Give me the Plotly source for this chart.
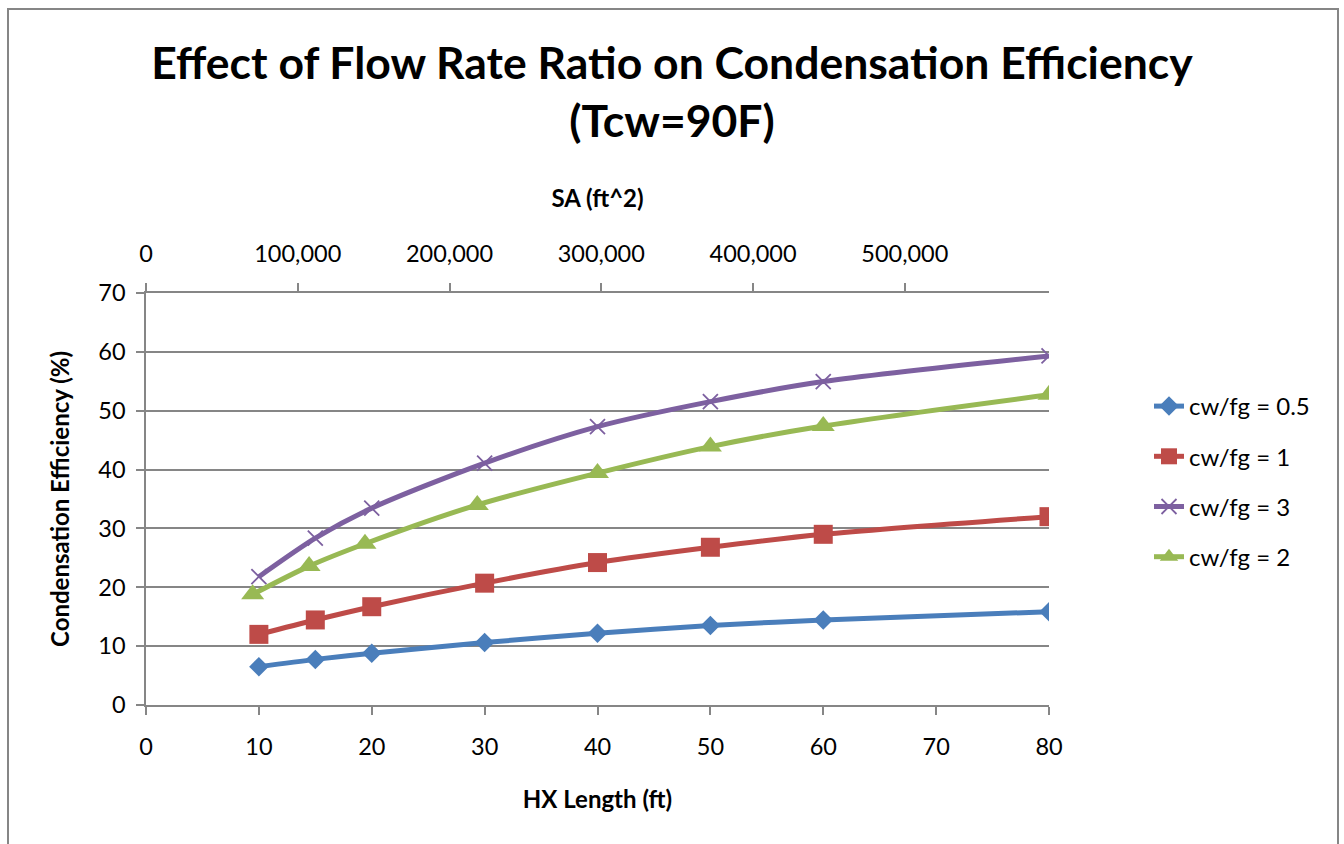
import plotly.graph_objects as go

# HX length (ft) for each run
length_ft = [10, 15, 20, 30, 40, 50, 60, 80]
length_ft_cw2 = [9.45, 14.45, 19.4, 29.35, 40, 50, 60, 80]

# Condensation efficiency (%) per flow rate ratio
eff_05 = [6.5, 7.75, 8.8, 10.6, 12.2, 13.5, 14.45, 15.85]
eff_1 = [12.0, 14.45, 16.7, 20.7, 24.2, 26.8, 29.0, 32.0]
eff_3 = [21.8, 28.35, 33.45, 41.1, 47.3, 51.55, 54.95, 59.3]
eff_2 = [18.8, 23.6, 27.4, 34.0, 39.4, 43.9, 47.4, 52.7]

# top-axis surface area ticks
sa_ticks = [0, 100000, 200000, 300000, 400000, 500000]
sa_tick_text = ["0", "100,000", "200,000", "300,000", "400,000", "500,000"]

FONT = "Lato"
GRAY = "#868686"

# plot area in pixels
W, H = 1344, 844
L, R, T, B = 146, 1049, 293, 705


def px_x(p):
    return (p - L) / (R - L)


def px_y(p):
    return (B - p) / (B - T)


series = [
    ("cw/fg = 0.5", length_ft, eff_05, "#4A7EBB", dict(symbol="diamond", size=15)),
    ("cw/fg = 1", length_ft, eff_1, "#BE4B48", dict(symbol="square", size=19)),
    ("cw/fg = 3", length_ft, eff_3, "#7D60A0", dict(symbol="x-thin-open", size=15,
                                                    line=dict(width=1.8, color="#7D60A0"))),
    ("cw/fg = 2", length_ft_cw2, eff_2, "#98B954", dict(symbol="triangle-up", size=20)),
]

fig = go.Figure()
for i, (name, xs, ys, color, marker) in enumerate(series):
    fig.add_trace(go.Scatter(
        x=xs, y=ys, name=name, mode="lines+markers",
        line=dict(color=color, width=5, shape="spline", smoothing=0.8),
        marker=dict(color=color, **marker),
        legendgroup=f"g{i}",
    ))

fig.update_layout(
    width=W, height=H,
    margin=dict(l=L, r=W - R, t=T, b=H - B, autoexpand=False),
    paper_bgcolor="white", plot_bgcolor="white",
    font=dict(family=FONT, size=23.5, color="black"),
    title=dict(
        text="<b>Effect of Flow Rate Ratio on Condensation Efficiency<br>(Tcw=90F)</b>",
        x=0.5, xanchor="center", xref="container",
        y=1 - 79 / H, yanchor="middle",
        font=dict(family=FONT, size=44.5, color="black"),
    ),
    showlegend=True,
    legend=dict(
        x=px_x(1149), xanchor="left", y=px_y(384), yanchor="top",
        font=dict(family=FONT, size=24),
        tracegroupgap=16, traceorder="grouped",
        bgcolor="rgba(0,0,0,0)",
    ),
    xaxis=dict(
        range=[0, 80], dtick=10, tick0=0,
        showgrid=False, zeroline=False,
        showline=True, linecolor=GRAY, linewidth=1.5,
        ticks="outside", ticklen=8, tickcolor=GRAY, tickwidth=1.5,
        ticklabelstandoff=12,
        title=dict(text="<b>HX Length (ft)</b>", font=dict(size=24), standoff=32),
    ),
    xaxis2=dict(
        range=[0, 595000], overlaying="x", side="top", anchor="y",
        tickvals=sa_ticks, ticktext=sa_tick_text,
        showgrid=False, zeroline=False,
        showline=True, linecolor=GRAY, linewidth=1.5,
        ticks="outside", ticklen=8, tickcolor=GRAY, tickwidth=1.5,
        ticklabelstandoff=12,
        title=dict(text="<b>SA (ft^2)</b>", font=dict(size=24), standoff=24),
    ),
    yaxis=dict(
        range=[0, 70], dtick=10, tick0=0,
        showgrid=True, gridcolor=GRAY, gridwidth=1.5,
        zeroline=False,
        showline=True, linecolor=GRAY, linewidth=1.5,
        ticks="outside", ticklen=8, tickcolor=GRAY, tickwidth=1.5,
        ticklabelstandoff=6,
        title=dict(text="<b>Condensation Efficiency (%)</b>", font=dict(size=24), standoff=22),
    ),
)

# carry the top axis with an invisible trace so it is drawn
fig.add_trace(go.Scatter(x=[0, 595000], y=[None, None], xaxis="x2", yaxis="y",
                         showlegend=False, hoverinfo="skip", mode="lines"))

# outer chart border
fig.add_shape(type="rect", xref="paper", yref="paper",
              x0=px_x(8), x1=px_x(1338), y0=px_y(860), y1=px_y(9),
              line=dict(color=GRAY, width=2), fillcolor="rgba(0,0,0,0)", layer="below")

fig.write_html("out.html")
